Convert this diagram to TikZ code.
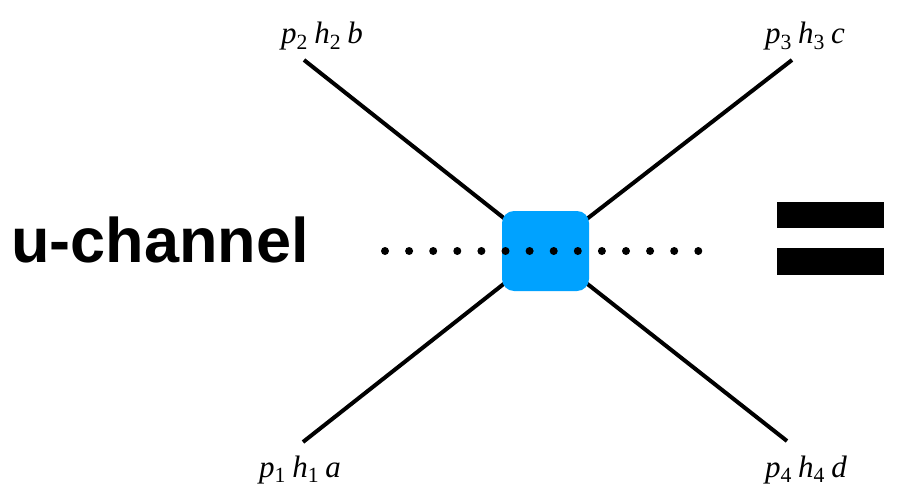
\documentclass[tikz,border=0pt]{standalone}
\usepackage{fontspec}
\setsansfont{Liberation Sans}
\newfontfamily\labelfont{Liberation Serif}
\usetikzlibrary{positioning}
\definecolor{vertexblue}{HTML}{00A2FF}
\newcommand{\leglabel}[4]{\textit{p}\textsubscript{#1}\hspace{0.2em}\textit{h}\textsubscript{#2}\hspace{0.2em}\textit{#3}#4}

\begin{document}
\begin{tikzpicture}[
	x=1pt, y=-1pt,
	leg/.style={line width=4pt},
	vertex/.style={rectangle, fill=vertexblue, rounded corners=12pt, minimum width=87pt, minimum height=80pt, inner sep=0pt},
	lbl/.style={font=\labelfont\fontsize{31}{34}\selectfont, inner sep=0pt},
	bar/.style={rectangle, fill=black, minimum width=107pt, minimum height=26.5pt, inner sep=0pt}
]
	\useasboundingbox (0,0) rectangle (923,489);

	% Vertex and external legs
	\coordinate (vc) at (545.5,251);
	\coordinate (e2) at (304,60);
	\coordinate (e3) at (792,60);
	\coordinate (e1) at (303,442);
	\coordinate (e4) at (787,441);
	\draw[leg] (e2) -- (vc) -- (e4);
	\draw[leg] (e1) -- (vc) -- (e3);
	\node[vertex] (box) at (vc) {};

	% Dotted line through the vertex
	\coordinate (dl) at (385,251);
	\coordinate (dr) at (698.5,251);
	\draw[line width=8pt, line cap=round, dash pattern=on 0pt off 24.1pt] (dl) -- (dr);

	% Labels
	\node[lbl, anchor=base] (l2) at (322,44) {\leglabel{2}{2}{b}{}};
	\node[lbl, anchor=base] (l3) at (805,44) {\leglabel{3}{3}{c}{}};
	\node[lbl, anchor=base] (l1) at (300,477) {\leglabel{1}{1}{a}{}};
	\node[lbl, anchor=base] (l4) at (806,477) {\leglabel{4}{4}{d}{}};

	% Title and equals sign
	\node[anchor=base west, inner sep=0pt, font=\sffamily\bfseries\fontsize{63}{72}\selectfont] (title) at (11,262) {u-channel};
	\node[bar] (eqtop) at (830.5,215) {};
	\node[bar, below=19.5pt of eqtop] (eqbot) {};
\end{tikzpicture}
\end{document}
